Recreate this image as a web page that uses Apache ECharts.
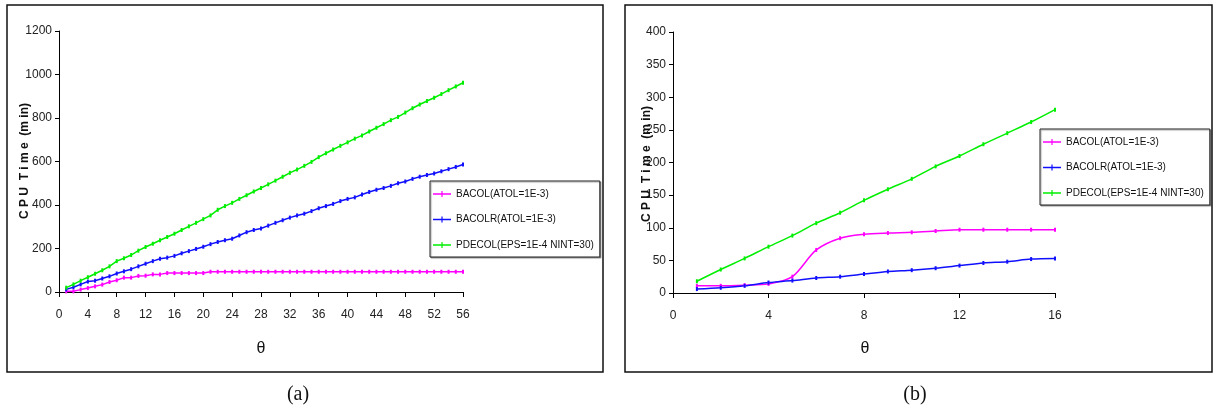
<!DOCTYPE html>
<html>
<head>
<meta charset="utf-8">
<script src="https://cdn.jsdelivr.net/npm/echarts@6/dist/echarts.min.js"></script>
<style>
  html, body { margin: 0; padding: 0; background: #fff; }
  #chart { width: 1219px; height: 412px; }
</style>
</head>
<body>
<div id="chart"></div>
<script>
// Panel (a): theta = 1 .. 56
const thetaA = [1, 2, 3, 4, 5, 6, 7, 8, 9, 10, 11, 12, 13, 14, 15, 16, 17, 18, 19, 20,
  21, 22, 23, 24, 25, 26, 27, 28, 29, 30, 31, 32, 33, 34, 35, 36, 37, 38, 39, 40,
  41, 42, 43, 44, 45, 46, 47, 48, 49, 50, 51, 52, 53, 54, 55, 56];
const bacolA = [3, 3, 11, 18, 26, 34, 46, 54, 66, 66, 74, 75, 81, 81, 87, 87, 87, 87, 87, 87,
  93, 93, 93, 93, 93, 93, 93, 93, 93, 93, 93, 93, 93, 93, 93, 93, 93, 93, 93, 93,
  93, 93, 93, 93, 93, 93, 93, 93, 93, 93, 93, 93, 93, 93, 93, 93];
const bacolrA = [12, 22, 35, 48, 52, 62, 72, 85, 95, 105, 118, 130, 142, 153, 158, 166, 178, 188, 198, 208,
  220, 230, 238, 245, 260, 275, 285, 292, 305, 318, 330, 342, 352, 360, 372, 385, 395, 405, 418, 428,
  435, 448, 460, 470, 478, 488, 500, 508, 520, 530, 538, 545, 555, 565, 575, 586];
const pdecolA = [20, 35, 52, 68, 84, 100, 118, 142, 155, 170, 190, 207, 222, 238, 253, 268, 285, 302, 318, 335,
  352, 378, 395, 410, 428, 445, 462, 478, 495, 512, 530, 548, 563, 580, 598, 620, 638, 655, 672, 688,
  705, 720, 738, 755, 772, 790, 805, 825, 845, 862, 878, 893, 910, 928, 945, 962];

// Panel (b): theta = 1 .. 16
const thetaB = [1, 2, 3, 4, 5, 6, 7, 8, 9, 10, 11, 12, 13, 14, 15, 16];
const bacolB = [11, 11, 12, 14, 25, 66, 84, 90, 92, 93, 95, 97, 97, 97, 97, 97];
const bacolrB = [6, 8, 11, 16, 19, 23, 25, 29, 33, 35, 38, 42, 46, 48, 52, 53];
const pdecolB = [18, 36, 53, 71, 88, 107, 123, 142, 159, 175, 194, 210, 228, 245, 262, 281];

const names = ['BACOL(ATOL=1E-3)', 'BACOLR(ATOL=1E-3)', 'PDECOL(EPS=1E-4 NINT=30)'];
const colors = ['#ff00ff', '#1010ff', '#00ee00'];

const sans = "'Liberation Sans', Arial, sans-serif";
const pairs = (xs, ys) => xs.map((x, i) => [x, ys[i]]);

// legend key: a short line with a small tick mark in the middle
const keyIcon = 'path://M0,2.2L18,2.2L18,3.8L0,3.8Z M8.4,0L9.6,0L9.6,6L8.4,6Z';

function axisX(gridIndex, max) {
  return {
    type: 'value', gridIndex, min: 0, max, interval: 4,
    axisLine: { show: true, onZero: false, lineStyle: { color: '#000', width: 1 } },
    axisTick: { show: true, inside: false, length: 5, lineStyle: { color: '#000' } },
    axisLabel: { margin: 17, color: '#222', fontFamily: sans, fontSize: 12, formatter: v => String(v) },
    splitLine: { show: false }
  };
}
function axisY(gridIndex, max, interval) {
  return {
    type: 'value', gridIndex, min: 0, max, interval,
    axisLine: { show: true, lineStyle: { color: '#000', width: 1 } },
    axisTick: { show: true, inside: false, length: 4, lineStyle: { color: '#000' } },
    axisLabel: { margin: 7, color: '#222', fontFamily: sans, fontSize: 12, formatter: v => String(v) },
    splitLine: { show: false }
  };
}
function line(name, color, xIdx, data, smooth) {
  return {
    type: 'line', name, xAxisIndex: xIdx, yAxisIndex: xIdx, data,
    smooth: smooth ? 0.3 : false,
    symbol: 'rect', symbolSize: [2, 4], showSymbol: true,
    lineStyle: { color, width: 1.5 },
    itemStyle: { color },
    animation: false
  };
}
function legendAt(left, top) {
  return {
    orient: 'vertical', left, top,
    padding: [6, 6, 5, 3], itemGap: 11.5,
    itemWidth: 18, itemHeight: 6, icon: keyIcon,
    backgroundColor: '#fff', borderColor: '#222', borderWidth: 1,
    shadowColor: 'rgba(0,0,0,0.35)', shadowOffsetX: 1, shadowOffsetY: 1, shadowBlur: 1,
    textStyle: { fontFamily: sans, fontSize: 10, lineHeight: 14, color: '#111' },
    data: names,
    selectedMode: false
  };
}
function yTitle(x, y) {
  return {
    type: 'text', x, y, rotation: Math.PI / 2, z: 100,
    style: {
      text: 'C P U  T i m e  (m in)', align: 'center', verticalAlign: 'middle',
      font: "bold 12px 'Liberation Sans', Arial, sans-serif", fill: '#111'
    }
  };
}
function label(x, y, text, font) {
  return { type: 'text', x, y, style: { text, align: 'center', verticalAlign: 'middle', font, fill: '#111' } };
}
function frame(x, y, w, h) {
  return { type: 'rect', shape: { x, y, width: w, height: h }, style: { fill: 'none', stroke: '#111', lineWidth: 1.5 } };
}

const chart = echarts.init(document.getElementById('chart'), null, { renderer: 'canvas' });
chart.setOption({
  backgroundColor: '#fff',
  animation: false,
  grid: [
    { left: 59, top: 31, width: 404, height: 261 },
    { left: 673, top: 32, width: 382, height: 261 }
  ],
  xAxis: [axisX(0, 56), axisX(1, 16)],
  yAxis: [axisY(0, 1200, 200), axisY(1, 400, 50)],
  legend: [legendAt(430, 181), legendAt(1040, 129)],
  series: [
    line(names[0], colors[0], 0, pairs(thetaA, bacolA), false),
    line(names[1], colors[1], 0, pairs(thetaA, bacolrA), false),
    line(names[2], colors[2], 0, pairs(thetaA, pdecolA), false),
    line(names[0], colors[0], 1, pairs(thetaB, bacolB), true),
    line(names[1], colors[1], 1, pairs(thetaB, bacolrB), true),
    line(names[2], colors[2], 1, pairs(thetaB, pdecolB), true)
  ],
  graphic: [
    frame(7, 5, 596, 367),
    frame(625, 5, 587, 367),
    yTitle(25, 161),
    yTitle(647, 164),
    label(261, 349, 'θ', "16px 'Liberation Sans', sans-serif"),
    label(865, 349, 'θ', "16px 'Liberation Sans', sans-serif"),
    label(298, 395, '(a)', "20px 'Liberation Serif', 'Times New Roman', serif"),
    label(915, 395, '(b)', "20px 'Liberation Serif', 'Times New Roman', serif")
  ]
});
</script>
</body>
</html>
